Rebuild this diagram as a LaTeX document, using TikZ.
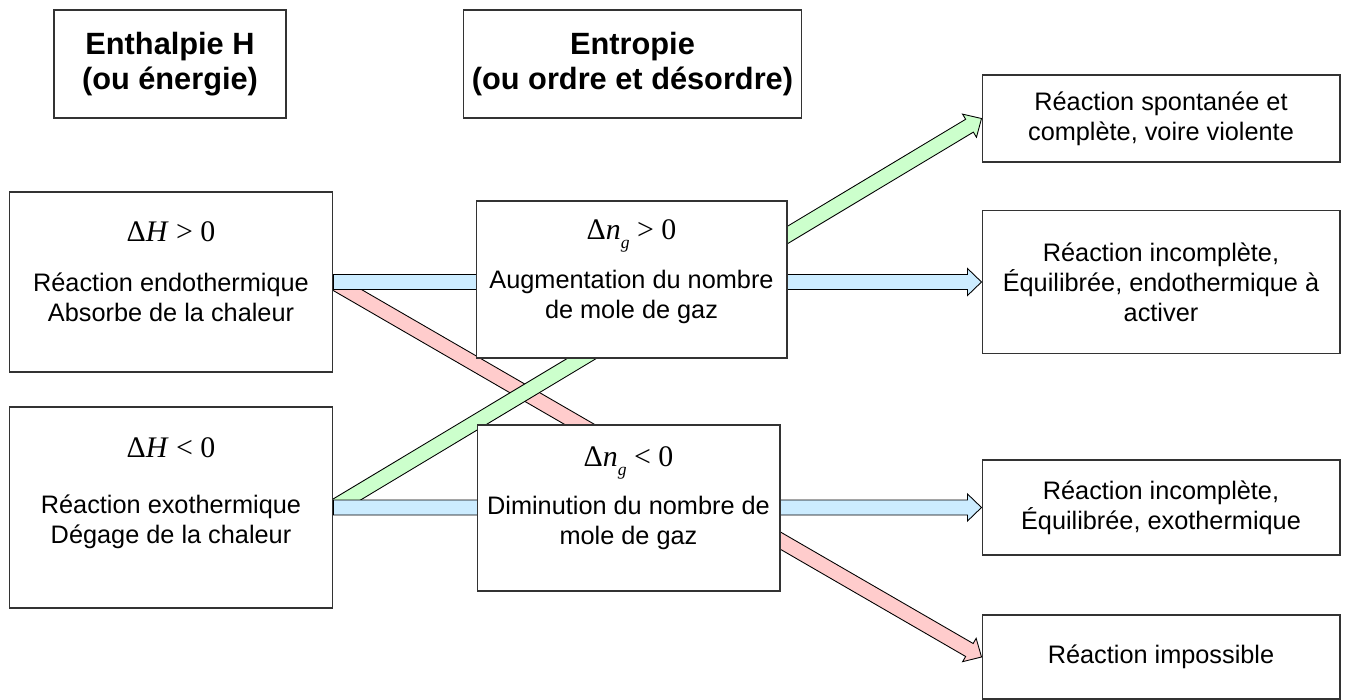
\documentclass[tikz,border=0pt]{standalone}
\usepackage[no-math]{fontspec}
\setmainfont{Liberation Sans}
\newfontfamily\eqfont{Liberation Serif}
\usetikzlibrary{calc,backgrounds}
\definecolor{flowblue}{HTML}{CCECFF}
\definecolor{flowgreen}{HTML}{CCFFCC}
\definecolor{flowred}{HTML}{FFCCCC}
\tikzset{
	box/.style={draw=black!80,line width=0.6pt,fill=white,inner sep=0pt,align=center},
	head/.style={box,font=\fontsize{17.5}{20}\selectfont\bfseries},
	txt/.style={align=center,font=\fontsize{14.4}{17}\selectfont},
	eq/.style={font=\eqfont\fontsize{17}{20}\selectfont}
}
% block arrow: shaft 0.3cm wide, head 0.54cm wide and 0.28cm long
\tikzset{
	flow/.style={draw=black,line width=0.5pt,fill=#1,
	to path={($(\tikztostart)!0.15cm!90:(\tikztotarget)$)
		-- ($(\tikztotarget)!0.3176cm!-28.18:(\tikztostart)$)
		-- ($(\tikztotarget)!0.389cm!-43.96:(\tikztostart)$)
		-- (\tikztotarget)
		-- ($(\tikztotarget)!0.389cm!43.96:(\tikztostart)$)
		-- ($(\tikztotarget)!0.3176cm!28.18:(\tikztostart)$)
		-- ($(\tikztostart)!0.15cm!-90:(\tikztotarget)$) -- cycle}}
}
\newcommand{\molgaz}{\textit{n}\raisebox{-0.3em}{\fontsize{10}{10}\selectfont\itshape g}}

\begin{document}
\begin{tikzpicture}[x=0.02cm,y=-0.02cm]
\useasboundingbox (0,0) rectangle (1347,700);

%headers
\node[head,minimum width=4.64cm,minimum height=2.16cm] (enthalpie) at (170,64) {Enthalpie H\\(ou énergie)};
\node[head,minimum width=6.78cm,minimum height=2.16cm] (entropie) at (632.5,64) {Entropie\\(ou ordre et désordre)};

%enthalpie
\node[box,minimum width=6.48cm,minimum height=3.6cm] (endo) at (171,282) {};
\node[eq] (endo-eq) at (171,232) {Δ\textit{H} > 0};
\node[txt] (endo-txt) at (171,297) {Réaction endothermique\\Absorbe de la chaleur};

\node[box,minimum width=6.48cm,minimum height=4.02cm] (exo) at (171,507.5) {};
\node[eq] (exo-eq) at (171,448) {Δ\textit{H} < 0};
\node[txt] (exo-txt) at (171,522) {Réaction exothermique\\Dégage de la chaleur};

%entropie
\node[box,minimum width=6.22cm,minimum height=3.14cm] (gasup) at (631.5,279.5) {};
\node[eq] (gasup-eq) at (631.5,236) {Δ\molgaz{} > 0};
\node[txt] (gasup-txt) at (631.5,297) {Augmentation du nombre\\de mole de gaz};

\node[box,minimum width=6.06cm,minimum height=3.32cm] (gasdown) at (628.5,508) {};
\node[eq] (gasdown-eq) at (628.5,463) {Δ\molgaz{} < 0};
\node[txt] (gasdown-txt) at (628.5,523) {Diminution du nombre de\\mole de gaz};

%results
\node[box,txt,minimum width=7.16cm,minimum height=1.74cm] (spont) at (1161,118.5) {Réaction spontanée et\\complète, voire violente};
\node[box,txt,minimum width=7.16cm,minimum height=2.86cm] (incendo) at (1161,282) {Réaction incomplète,\\Équilibrée, endothermique à\\activer};
\node[box,txt,minimum width=7.16cm,minimum height=1.9cm] (incexo) at (1161,507.5) {Réaction incomplète,\\Équilibrée, exothermique};
\node[box,txt,minimum width=7.16cm,minimum height=1.68cm] (imposs) at (1161,657) {Réaction impossible};

%arrows
\begin{scope}[on background layer]
\draw[flow=flowred] (endo.east) to (imposs.west);
\draw[flow=flowgreen] (exo.east) to (spont.west);
\draw[flow=flowblue] (endo.east) to (incendo.west);
\draw[flow=flowblue] (exo.east) to (incexo.west);
\end{scope}
\end{tikzpicture}
\end{document}
